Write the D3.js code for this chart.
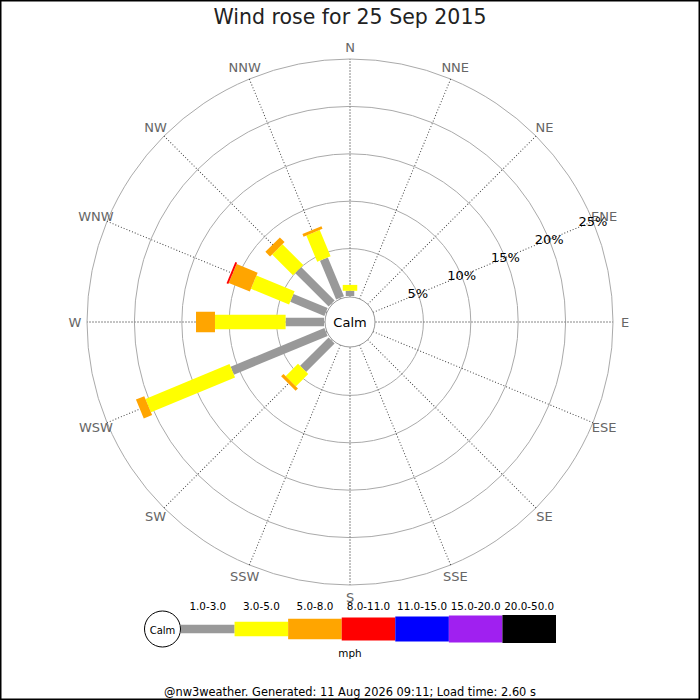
<!DOCTYPE html>
<html>
<head>
<meta charset="utf-8">
<script src="https://cdn.jsdelivr.net/npm/d3@7"></script>
<style>
  body { margin: 0; background: #fff; }
  text { font-family: "DejaVu Sans", sans-serif; }
</style>
</head>
<body>
<svg id="rose" width="700" height="700"></svg>
<script>
// compass points, clockwise from north
const directions = ['N', 'NNE', 'NE', 'ENE', 'E', 'ESE', 'SE', 'SSE',
                    'S', 'SSW', 'SW', 'WSW', 'W', 'WNW', 'NW', 'NNW'];

// speed bins (mph)
const speedBins = ['1.0-3.0', '3.0-5.0', '5.0-8.0', '8.0-11.0', '11.0-15.0', '15.0-20.0', '20.0-50.0'];

// percentage of time per direction, per speed bin
const roseDirs = ['N', 'NNW', 'NW', 'WNW', 'W', 'WSW', 'SW'];
const pctLight  = [0.55, 4.45, 5.0, 3.9, 4.05, 10.7, 4.25];
const pctGentle = [0.62, 3.0, 3.1, 4.35, 7.45, 9.6, 1.85];
const pctModer  = [0, 0.3, 0.7, 2.4, 2.0, 0.95, 0.35];
const pctFresh  = [0, 0, 0, 0.2, 0, 0, 0];

const gridTicks = [5, 10, 15, 20, 25];

const titleText = 'Wind rose for 25 Sep 2015';
const footerText = '@nw3weather. Generated: 11 Aug 2026 09:11; Load time: 2.60 s';

// styles
const binColors = ['#999999', '#ffff00', '#ffa500', '#ff0000', '#0000ff', '#a020f0', '#000000'];
const binWidths = [8.5, 14.5, 20.5, 23, 25, 27, 28];

const svg = d3.select('#rose');
const width = +svg.attr('width');
const cx = 350, cy = 322;
const calmRadius = 25;

const r = d3.scaleLinear().domain([0, 25]).range([26, 263]);
const angle = d3.scalePoint().domain(directions).range([0, 360 - 22.5]);

const series = [pctLight, pctGentle, pctModer, pctFresh];

// frame
svg.append('rect')
    .attr('x', 0.75).attr('y', 0.75)
    .attr('width', width - 1.5).attr('height', 700 - 1.5)
    .attr('fill', 'none').attr('stroke', '#000').attr('stroke-width', 1.5);

svg.append('text')
    .attr('x', width / 2).attr('y', 24)
    .attr('text-anchor', 'middle')
    .attr('font-size', 20.5).attr('fill', '#222')
    .text(titleText);

const plot = svg.append('g').attr('transform', `translate(${cx},${cy})`);

// grid circles
plot.selectAll('circle.grid')
    .data(gridTicks)
    .enter().append('circle')
    .attr('class', 'grid')
    .attr('r', d => r(d))
    .attr('fill', 'none')
    .attr('stroke', '#aaa')
    .attr('stroke-width', 1);

// spokes
directions.forEach(d => {
    const main = ['N', 'E', 'S', 'W'].includes(d);
    plot.append('line')
        .attr('x1', 0).attr('y1', -calmRadius)
        .attr('x2', 0).attr('y2', -r(25))
        .attr('transform', `rotate(${angle(d)})`)
        .attr('stroke', main ? '#888' : '#444')
        .attr('stroke-width', 1)
        .attr('stroke-dasharray', main ? '2,1' : '1,2');
});

// compass labels
directions.forEach(d => {
    const a = angle(d) * Math.PI / 180;
    plot.append('text')
        .attr('x', 275 * Math.sin(a))
        .attr('y', -275 * Math.cos(a))
        .attr('text-anchor', 'middle')
        .attr('dominant-baseline', 'central')
        .attr('font-size', 13)
        .attr('fill', '#666')
        .text(d);
});

// bars
roseDirs.forEach((d, i) => {
    const g = plot.append('g').attr('transform', `rotate(${angle(d)})`);
    let cum = 0;
    series.forEach((s, b) => {
        const v = s[i];
        if (v <= 0) return;
        const r1 = r(cum), r2 = r(cum + v);
        g.append('rect')
            .attr('x', -binWidths[b] / 2)
            .attr('y', -r2)
            .attr('width', binWidths[b])
            .attr('height', r2 - r1)
            .attr('fill', binColors[b]);
        cum += v;
    });
});

// calm circle
plot.append('circle')
    .attr('r', calmRadius)
    .attr('fill', '#fff')
    .attr('stroke', '#999')
    .attr('stroke-width', 1);

plot.append('text')
    .attr('text-anchor', 'middle')
    .attr('dominant-baseline', 'central')
    .attr('font-size', 13)
    .attr('fill', '#000')
    .text('Calm');

// tick labels along ENE
const tickAngle = angle('ENE') * Math.PI / 180;
plot.selectAll('text.tick')
    .data(gridTicks)
    .enter().append('text')
    .attr('class', 'tick')
    .attr('x', d => r(d) * Math.sin(tickAngle))
    .attr('y', d => -r(d) * Math.cos(tickAngle))
    .attr('text-anchor', 'middle')
    .attr('dominant-baseline', 'central')
    .attr('font-size', 13)
    .attr('fill', '#000')
    .text(d => d + '%');

// legend
const legend = svg.append('g').attr('transform', 'translate(0,629)');
const lx = d3.scaleBand().domain(speedBins).range([181, 556]);

legend.append('circle')
    .attr('cx', 162.5).attr('cy', 0).attr('r', 18)
    .attr('fill', '#fff').attr('stroke', '#000').attr('stroke-width', 1);
legend.append('text')
    .attr('x', 162.5).attr('y', 1)
    .attr('text-anchor', 'middle')
    .attr('dominant-baseline', 'central')
    .attr('font-size', 10)
    .text('Calm');

legend.selectAll('rect.bin')
    .data(speedBins)
    .enter().append('rect')
    .attr('class', 'bin')
    .attr('x', d => lx(d))
    .attr('y', (d, i) => -binWidths[i] / 2)
    .attr('width', lx.bandwidth())
    .attr('height', (d, i) => binWidths[i])
    .attr('fill', (d, i) => binColors[i]);

legend.selectAll('text.bin')
    .data(speedBins)
    .enter().append('text')
    .attr('class', 'bin')
    .attr('x', d => lx(d) + lx.bandwidth() / 2)
    .attr('y', -19)
    .attr('text-anchor', 'middle')
    .attr('font-size', 10.4)
    .text(d => d);

legend.append('text')
    .attr('x', 350).attr('y', 28)
    .attr('text-anchor', 'middle')
    .attr('font-size', 10.4)
    .text('mph');

svg.append('text')
    .attr('x', width / 2).attr('y', 696)
    .attr('text-anchor', 'middle')
    .attr('font-size', 11.4)
    .attr('fill', '#000')
    .text(footerText);
</script>
</body>
</html>
